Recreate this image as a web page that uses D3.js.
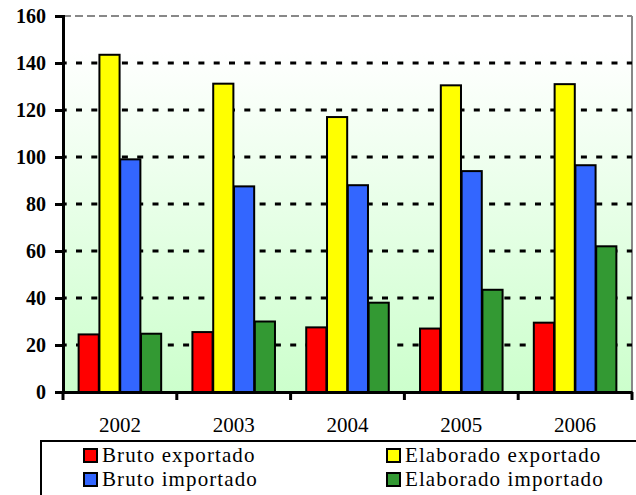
<!DOCTYPE html>
<meta charset="utf-8">
<style>
body { margin: 0; background: #fff; }
text { font-family: "Liberation Serif", serif; }
</style>
<body>
<script src="https://d3js.org/d3.v7.min.js"></script>
<script>

// data
var years = ["2002", "2003", "2004", "2005", "2006"];
var seriesNames = ["Bruto exportado", "Elaborado exportado", "Bruto importado", "Elaborado importado"];
var brutoExportado = [24.5, 25.5, 27.5, 27, 29.5];
var elaboradoExportado = [143.5, 131.2, 117, 130.5, 131];
var brutoImportado = [99, 87.5, 88, 94, 96.5];
var elaboradoImportado = [24.8, 30, 38, 43.5, 62];
var yTicks = [0, 20, 40, 60, 80, 100, 120, 140, 160];
var colors = ["#ff0000", "#ffff00", "#3366ff", "#339933"];

var allSeries = [brutoExportado, elaboradoExportado, brutoImportado, elaboradoImportado];

var W = 636, H = 495;
var margin = {top: 16, right: 4, bottom: 103, left: 63},
    width = W - margin.left - margin.right,
    height = H - margin.top - margin.bottom;

var svg = d3.select("body").append("svg")
    .attr("width", W)
    .attr("height", H);

// background gradient
var defs = svg.append("defs");
var grad = defs.append("linearGradient")
    .attr("id", "bg")
    .attr("x1", 0).attr("y1", 0).attr("x2", 0).attr("y2", 1);
grad.append("stop").attr("offset", "0%").attr("stop-color", "#ffffff");
grad.append("stop").attr("offset", "100%").attr("stop-color", "#ccffcc");

var g = svg.append("g")
    .attr("transform", "translate(" + margin.left + "," + margin.top + ")");

var x0 = d3.scaleBand().domain(years).range([0, width]).paddingInner(0).paddingOuter(0);
var x1 = d3.scaleBand().domain(d3.range(4)).range([15, x0.bandwidth() - 15]).padding(0.03);
var y = d3.scaleLinear().domain([0, 160]).range([height, 0]);

// plot background
g.append("rect")
    .attr("x", 0).attr("y", y(145))
    .attr("width", width).attr("height", height - y(145))
    .attr("fill", "url(#bg)");

// top and right border
g.append("line")
    .attr("x1", 0).attr("x2", width).attr("y1", y(160)).attr("y2", y(160))
    .attr("stroke", "#888").attr("stroke-width", 2).attr("stroke-dasharray", "8,4");
g.append("line")
    .attr("x1", width).attr("x2", width).attr("y1", y(160)).attr("y2", height)
    .attr("stroke", "#888").attr("stroke-width", 2);

// gridlines
g.selectAll(".grid")
    .data(yTicks.filter(function(d) { return d > 0 && d < 160; }))
    .enter().append("line")
    .attr("x1", 0).attr("x2", width)
    .attr("y1", function(d) { return y(d); })
    .attr("y2", function(d) { return y(d); })
    .attr("stroke", "#000")
    .attr("stroke-width", 3)
    .attr("stroke-dasharray", "6,9.3")
    .attr("stroke-dashoffset", 2.3);

// bars
var groups = g.selectAll(".grp")
    .data(years)
    .enter().append("g")
    .attr("transform", function(d) { return "translate(" + x0(d) + ",0)"; });

groups.selectAll("rect")
    .data(function(d, i) { return allSeries.map(function(s, k) { return {k: k, v: s[i]}; }); })
    .enter().append("rect")
    .attr("x", function(d) { return x1(d.k); })
    .attr("y", function(d) { return y(d.v); })
    .attr("width", x1.bandwidth())
    .attr("height", function(d) { return height - y(d.v); })
    .attr("fill", function(d) { return colors[d.k]; })
    .attr("stroke", "#000")
    .attr("stroke-width", 2);

// y axis
var yAxis = g.append("g")
    .call(d3.axisLeft(y).tickValues(yTicks).tickSize(8).tickPadding(9));
yAxis.select(".domain").attr("stroke-width", 3);
yAxis.selectAll(".tick line").attr("stroke-width", 3);
yAxis.selectAll("text")
    .style("font-family", "'Liberation Serif', serif")
    .style("font-weight", "bold")
    .style("font-size", "20px")
    .attr("fill", "#000");

// x axis
var xAxis = g.append("g")
    .attr("transform", "translate(0," + height + ")")
    .call(d3.axisBottom(x0).tickSize(0).tickPadding(25));
xAxis.select(".domain").attr("stroke-width", 3);
xAxis.selectAll("text")
    .style("font-family", "'Liberation Serif', serif")
    .style("font-size", "21px")
    .attr("fill", "#000");
// category boundary ticks
xAxis.selectAll(".sep")
    .data(years.concat(["end"]))
    .enter().append("line")
    .attr("x1", function(d, i) { return i * x0.bandwidth(); })
    .attr("x2", function(d, i) { return i * x0.bandwidth(); })
    .attr("y1", 0).attr("y2", 8)
    .attr("stroke", "#000").attr("stroke-width", 3);

// legend
var leg = svg.append("g");
leg.append("path")
    .attr("d", "M41," + H + "V441H" + W)
    .attr("fill", "none").attr("stroke", "#000").attr("stroke-width", 2);

var legPos = [[83, 448], [386, 448], [83, 472], [386, 472]];
var li = leg.selectAll(".li")
    .data(seriesNames)
    .enter().append("g")
    .attr("transform", function(d, i) { return "translate(" + legPos[i][0] + "," + legPos[i][1] + ")"; });
li.append("rect")
    .attr("x", 1).attr("y", 1).attr("width", 13).attr("height", 13)
    .attr("fill", function(d, i) { return colors[i]; })
    .attr("stroke", "#000").attr("stroke-width", 2);
li.append("text")
    .attr("x", 19).attr("y", 14)
    .style("font-family", "'Liberation Serif', serif")
    .style("font-size", "21px")
    .style("letter-spacing", "1.1px")
    .text(function(d) { return d; });

</script>
</body>
